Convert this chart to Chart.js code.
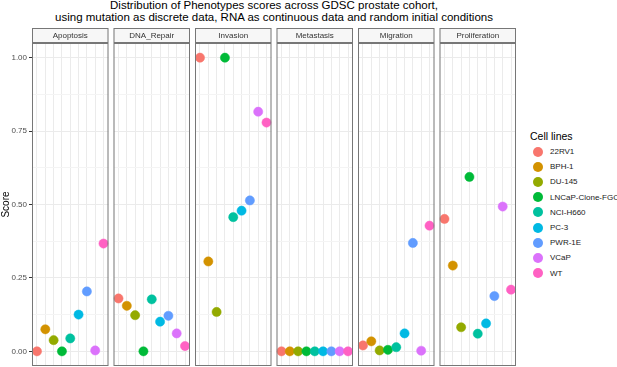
<!DOCTYPE html>
<html>
<head>
<meta charset="utf-8">
<script src="https://cdn.jsdelivr.net/npm/chart.js@4.4.0/dist/chart.umd.min.js"></script>
<style>
body{margin:0;background:#fff;font-family:"Liberation Sans",Arial,sans-serif;}
#wrap{position:relative;width:617px;height:367px;overflow:hidden;background:#fff;}
#wrap canvas{position:absolute;}
.title{position:absolute;left:32px;width:484px;top:0;text-align:center;font-size:11.5px;line-height:11.5px;color:#000;white-space:nowrap;}
#legend{position:absolute;left:530px;top:129px;color:#000;}
#legend .lt{font-size:10.5px;height:15px;line-height:15px;}
#legend .it{position:relative;height:15.2px;font-size:8px;line-height:15.2px;padding-left:20px;white-space:nowrap;color:#1a1a1a;}
#legend .dot{position:absolute;left:2.5px;top:2.6px;width:10px;height:10px;border-radius:50%;}
</style>
</head>
<body>
<div id="wrap">
  <div class="title">Distribution of Phenotypes scores across GDSC prostate cohort,<br>using mutation as discrete data, RNA as continuous data and random initial conditions</div>
  <div id="legend"></div>
</div>
<script>
const phenotypes = ["Apoptosis", "DNA_Repair", "Invasion", "Metastasis", "Migration", "Proliferation"];
const cellLines = ["22RV1", "BPH-1", "DU-145", "LNCaP-Clone-FGC", "NCI-H660", "PC-3", "PWR-1E", "VCaP", "WT"];
const colours = ["#F8766D", "#D39200", "#93AA00", "#00BA38", "#00C19F", "#00B9E3", "#619CFF", "#DB72FB", "#FF61C3"];

// scores per phenotype, same order as cellLines
const apoptosis     = [0.000, 0.075, 0.038, 0.000, 0.044, 0.125, 0.204, 0.003, 0.367];
const dnaRepair     = [0.180, 0.155, 0.123, 0.000, 0.177, 0.101, 0.121, 0.061, 0.018];
const invasion      = [1.000, 0.306, 0.134, 1.000, 0.457, 0.479, 0.514, 0.816, 0.779];
const metastasis    = [0.000, 0.000, 0.000, 0.000, 0.000, 0.000, 0.000, 0.000, 0.000];
const migration     = [0.020, 0.034, 0.003, 0.005, 0.014, 0.061, 0.369, 0.002, 0.428];
const proliferation = [0.451, 0.292, 0.082, 0.594, 0.060, 0.095, 0.188, 0.493, 0.210];

const yTicks = [0, 0.25, 0.5, 0.75, 1];
const yTickLabels = ["0.00", "0.25", "0.50", "0.75", "1.00"];
const yMinor = [0.125, 0.375, 0.625, 0.875];

const scores = [apoptosis, dnaRepair, invasion, metastasis, migration, proliferation];

Chart.defaults.font.family = '"Liberation Sans", Arial, sans-serif';

// draws panel background, strip and border like ggplot facets
const facetFrame = {
  id: 'facetFrame',
  beforeDraw(chart, args, opts) {
    const {ctx, chartArea: a} = chart;
    ctx.save();
    ctx.fillStyle = '#fff';
    ctx.fillRect(a.left, a.top, a.right - a.left, a.bottom - a.top);
    ctx.fillStyle = '#f7f7f7';
    ctx.fillRect(a.left, a.top - 15, a.right - a.left, 15);
    ctx.strokeStyle = '#777';
    ctx.lineWidth = 1;
    ctx.strokeRect(a.left + 0.5, a.top - 14.5, a.right - a.left - 1, 14);
    ctx.fillStyle = '#333';
    ctx.font = '8px "Liberation Sans", Arial, sans-serif';
    ctx.textAlign = 'center';
    ctx.textBaseline = 'middle';
    ctx.fillText(opts.label, (a.left + a.right) / 2, a.top - 7.5);
    ctx.restore();
  },
  afterDraw(chart) {
    const {ctx, chartArea: a} = chart;
    ctx.save();
    ctx.strokeStyle = '#777';
    ctx.lineWidth = 1;
    ctx.strokeRect(a.left + 0.5, a.top + 0.5, a.right - a.left - 1, a.bottom - a.top - 1);
    ctx.restore();
  }
};

const wrap = document.getElementById('wrap');
const panelLeft = 32, panelW = 76.5, gap = 5;

phenotypes.forEach((name, p) => {
  const left = panelLeft + p * (panelW + gap);
  const first = p === 0;
  const cx = first ? 0 : Math.floor(left) - 2;
  const cw = Math.ceil(left + panelW) + 3 - cx;
  const canvas = document.createElement('canvas');
  canvas.width = cw;
  canvas.height = 339;
  canvas.style.left = cx + 'px';
  canvas.style.top = '28px';
  wrap.appendChild(canvas);

  new Chart(canvas, {
    type: 'scatter',
    data: {
      datasets: [{
        label: name,
        data: cellLines.map((c, i) => ({x: i + 1, y: scores[p][i]})),
        pointBackgroundColor: colours,
        pointBorderColor: colours,
        pointRadius: 4.6,
        pointBorderWidth: 0.5
      }]
    },
    options: {
      responsive: false,
      animation: false,
      clip: false,
      layout: {autoPadding: false, padding: {top: 15, bottom: 1, left: first ? 0 : left - cx, right: cw - (left + panelW - cx)}},
      plugins: {
        legend: {display: false},
        tooltip: {enabled: false},
        facetFrame: {label: name}
      },
      scales: {
        x: {
          type: 'linear', min: 0.4, max: 9.6,
          afterBuildTicks: s => { s.ticks = cellLines.map((c, i) => ({value: i + 1})); },
          afterFit: s => { s.height = 0; s.paddingLeft = 0; s.paddingRight = 0; },
          ticks: {display: false},
          border: {display: false},
          grid: {color: '#ebebeb', lineWidth: 1, drawTicks: false}
        },
        y: {
          type: 'linear', min: -0.05, max: 1.05,
          afterBuildTicks: s => { s.ticks = yTicks.concat(yMinor).map(v => ({value: v})); },
          afterFit: s => { s.width = first ? 32 : 0; s.paddingTop = 0; s.paddingBottom = 0; },
          ticks: {
            display: first, padding: 2, color: '#4d4d4d', font: {size: 8},
            callback: v => { const k = yTicks.indexOf(v); return k < 0 ? '' : yTickLabels[k]; }
          },
          border: {display: false},
          grid: {
            color: c => yTicks.includes(c.tick.value) ? '#ebebeb' : '#f4f4f4',
            lineWidth: 1,
            drawTicks: first, tickLength: 3,
            tickColor: c => yTicks.includes(c.tick.value) ? '#333' : 'rgba(0,0,0,0)'
          },
          title: {display: first, text: 'Score', color: '#000', font: {size: 10}, padding: {top: 0, bottom: 0}}
        }
      }
    },
    plugins: [facetFrame]
  });
});

// legend
const legend = document.getElementById('legend');
legend.innerHTML = '<div class="lt">Cell lines</div>' +
  cellLines.map((c, i) => `<div class="it"><span class="dot" style="background:${colours[i]}"></span>${c}</div>`).join('');
</script>
</body>
</html>
